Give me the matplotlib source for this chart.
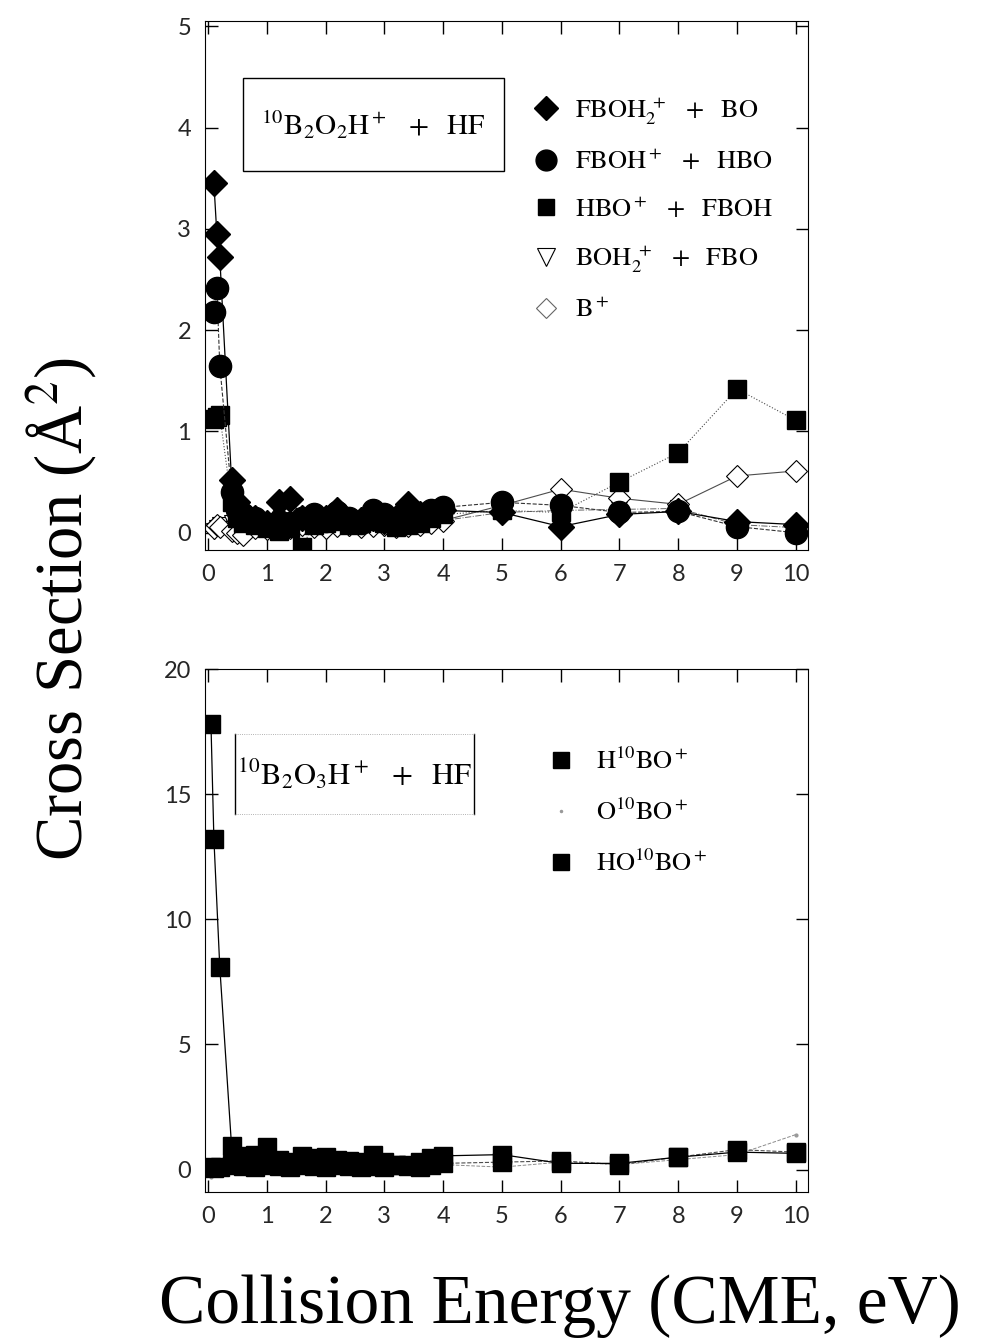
import numpy as np
import matplotlib
matplotlib.use("Agg")
import matplotlib.pyplot as plt
from matplotlib.lines import Line2D
from matplotlib.patches import Rectangle

plt.rcParams['font.family'] = ['Liberation Serif', 'DejaVu Serif']
plt.rcParams['mathtext.fontset'] = 'stix'

# ---- top panel: 10B2O2H+ + HF ----
energy_top = [0.1, 0.15, 0.2, 0.4, 0.5, 0.6, 0.8, 1.0, 1.2, 1.4, 1.6, 1.8, 2.0, 2.2,
              2.4, 2.6, 2.8, 3.0, 3.2, 3.4, 3.6, 3.8, 4.0, 5, 6, 7, 8, 9, 10]
fboh2 = [3.45, 2.95, 2.72, 0.52, 0.30, 0.20, 0.15, 0.10, 0.30, 0.33, 0.15, 0.12, 0.15, 0.22,
         0.12, 0.13, 0.15, 0.12, 0.15, 0.28, 0.18, 0.20, 0.22, 0.20, 0.06, 0.18, 0.21, 0.11, 0.08]
fboh = [2.18, 2.42, 1.65, 0.40, 0.22, 0.18, 0.15, 0.08, 0.12, 0.10, 0.15, 0.18, 0.12, 0.20,
        0.15, 0.10, 0.22, 0.18, 0.12, 0.15, 0.18, 0.22, 0.25, 0.30, 0.27, 0.20, 0.21, 0.06, 0.00]
hbo = [1.12, 1.14, 1.16, 0.30, 0.15, 0.10, 0.08, 0.05, 0.02, 0.05, -0.14, 0.08, 0.10, 0.12,
       0.08, 0.10, 0.12, 0.10, 0.06, 0.08, 0.10, 0.15, 0.18, 0.22, 0.20, 0.50, 0.79, 1.42, 1.11]
boh2 = [0.02, 0.05, 0.08, 0.10, 0.08, 0.05, 0.06, 0.04, 0.05, 0.06, 0.08, 0.05, 0.07, 0.06,
        0.05, 0.08, 0.06, 0.05, 0.07, 0.06, 0.08, 0.10, 0.12, 0.20, 0.22, 0.23, 0.24, 0.08, 0.05]
bplus = [0.05, 0.08, 0.06, 0.02, 0.00, -0.02, 0.05, 0.04, 0.06, 0.05, 0.08, 0.06, 0.05, 0.07,
         0.08, 0.06, 0.07, 0.08, 0.06, 0.07, 0.08, 0.10, 0.12, 0.27, 0.43, 0.34, 0.28, 0.56, 0.61]

# ---- bottom panel: 10B2O3H+ + HF ----
energy_bot = [0.05, 0.1, 0.2, 0.4, 0.6, 0.8, 1.0, 1.2, 1.4, 1.6, 1.8, 2.0, 2.2, 2.4,
              2.6, 2.8, 3.0, 3.2, 3.4, 3.6, 3.8, 4.0, 5, 6, 7, 8, 9, 10]
h10bo = [17.8, 13.2, 8.1, 0.95, 0.55, 0.60, 0.90, 0.40, 0.30, 0.55, 0.45, 0.50, 0.40, 0.35,
         0.30, 0.60, 0.30, 0.20, 0.20, 0.30, 0.45, 0.55, 0.60, 0.25, 0.25, 0.50, 0.70, 0.65]
o10bo = [-0.3, 0.0, 0.1, 0.1, 0.05, 0.1, 0.0, 0.1, 0.05, 0.1, 0.0, 0.05, 0.1, 0.05,
         0.1, 0.05, 0.0, 0.1, 0.05, 0.1, 0.15, 0.2, 0.1, 0.3, 0.2, 0.4, 0.6, 1.4]
ho10bo = [0.10, 0.05, 0.10, 0.20, 0.15, 0.10, 0.20, 0.15, 0.10, 0.20, 0.15, 0.10, 0.20, 0.15,
          0.10, 0.15, 0.10, 0.20, 0.15, 0.10, 0.20, 0.25, 0.30, 0.35, 0.20, 0.50, 0.80, 0.70]

top_labels = [r'$\mathrm{FBOH_2^{\ +}\ \ +\ \ BO}$', r'$\mathrm{FBOH^+\ \ +\ \ HBO}$',
              r'$\mathrm{HBO^+\ \ +\ \ FBOH}$', r'$\mathrm{BOH_2^{\ +}\ \ +\ \ FBO}$',
              r'$\mathrm{B^+}$']
bot_labels = [r'$\mathrm{H^{10}BO^+}$', r'$\mathrm{O^{10}BO^+}$', r'$\mathrm{HO^{10}BO^+}$']

fig = plt.figure(figsize=(9.86, 13.38), dpi=100)
ax1 = fig.add_axes([0.208, 0.589, 0.611, 0.395])
ax2 = fig.add_axes([0.208, 0.109, 0.611, 0.391])

# top panel series
ax1.plot(energy_top, boh2, ls='-.', lw=0.7, color='0.4', marker='v', ms=12,
         mfc='white', mec='black', mew=0.8)
ax1.plot(energy_top, bplus, ls='-', lw=0.8, color='0.3', marker='D', ms=11,
         mfc='white', mec='black', mew=0.8)
ax1.plot(energy_top, hbo, ls=':', lw=0.8, color='0.3', marker='s', ms=13, mfc='black', mec='black')
ax1.plot(energy_top, fboh, ls='--', lw=0.8, color='0.2', marker='o', ms=16, mfc='black', mec='black')
ax1.plot(energy_top, fboh2, ls='-', lw=0.9, color='black', marker='D', ms=13, mfc='black', mec='black')

ax1.add_patch(Rectangle((0.59, 3.57), 4.44, 0.92, fill=False, lw=1.0, ec='black'))
ax1.text(2.81, 4.03, r'$\mathrm{^{10}B_2O_2H^+\ \ +\ \ HF}$', fontsize=21,
         ha='center', va='center')

h_top = [Line2D([], [], ls='none', marker='D', ms=12, mfc='black', mec='black'),
         Line2D([], [], ls='none', marker='o', ms=15, mfc='black', mec='black'),
         Line2D([], [], ls='none', marker='s', ms=12, mfc='black', mec='black'),
         Line2D([], [], ls='none', marker='v', ms=13, mfc='white', mec='black', mew=0.8),
         Line2D([], [], ls='none', marker='D', ms=10, mfc='white', mec='0.4', mew=0.8)]
ax1.legend(h_top, top_labels, loc='upper left', bbox_to_anchor=(0.505, 0.905), frameon=False,
           fontsize=19, handlelength=1.0, handletextpad=0.6, labelspacing=0.85)

# bottom panel series
ax2.plot(energy_bot, o10bo, ls='--', lw=0.7, color='0.55', marker='.', ms=4,
         mfc='0.6', mec='0.6')
ax2.plot(energy_bot, ho10bo, ls='--', lw=0.8, color='0.3', marker='s', ms=13, mfc='black', mec='black')
ax2.plot(energy_bot, h10bo, ls='-', lw=0.9, color='black', marker='s', ms=13, mfc='black', mec='black')

ax2.plot([0.46, 0.46], [14.2, 17.4], color='black', lw=1.0)
ax2.plot([4.53, 4.53], [14.2, 17.4], color='black', lw=1.0)
ax2.plot([0.46, 4.53], [17.4, 17.4], color='0.6', lw=0.6, ls=':')
ax2.plot([0.46, 4.53], [14.2, 14.2], color='0.6', lw=0.6, ls=':')
ax2.text(2.5, 15.8, r'$\mathrm{^{10}B_2O_3H^+\ \ +\ \ HF}$', fontsize=22,
         ha='center', va='center')

h_bot = [Line2D([], [], ls='none', marker='s', ms=12, mfc='black', mec='black'),
         Line2D([], [], ls='none', marker='.', ms=3, mfc='0.6', mec='0.6'),
         Line2D([], [], ls='none', marker='s', ms=12, mfc='black', mec='black')]
ax2.legend(h_bot, bot_labels, loc='upper left', bbox_to_anchor=(0.53, 0.895), frameon=False,
           fontsize=19, handlelength=1.0, handletextpad=0.8, labelspacing=0.95)

for ax in (ax1, ax2):
    ax.set_xlim(-0.05, 10.2)
    ax.set_xticks(range(0, 11))
    ax.tick_params(direction='in', top=True, right=True, length=9, width=1.0,
                   labelsize=17, pad=10)
    for lab in ax.get_xticklabels() + ax.get_yticklabels():
        lab.set_family(['Lato', 'DejaVu Sans'])
        lab.set_fontweight('normal')
        lab.set_color('0.15')

ax1.set_ylim(-0.17, 5.05)
ax1.set_yticks(range(0, 6))
ax2.set_ylim(-0.9, 20)
ax2.set_yticks([0, 5, 10, 15, 20])

fig.text(0.062, 0.545, r'Cross Section (Å$^{2}$)', rotation=90, fontsize=48,
         ha='center', va='center')
fig.text(0.568, 0.024, 'Collision Energy (CME, eV)', fontsize=50,
         ha='center', va='center')

fig.savefig('out.png', dpi=100)
